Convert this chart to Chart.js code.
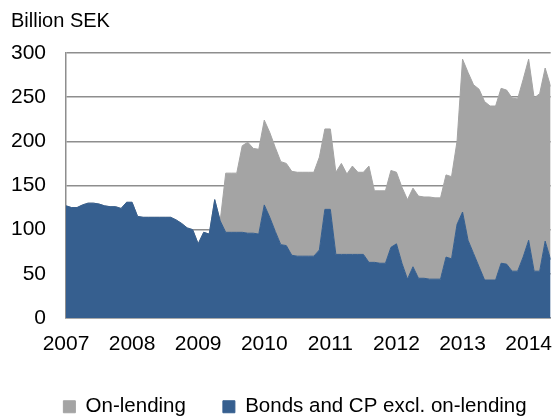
<!DOCTYPE html>
<html lang="en">
<head>
    <meta charset="UTF-8">
    <title>Bonds and CP, on-lending</title>
    <style>
        html, body { margin: 0; padding: 0; background: #fff; }
        #wrap { width: 555px; height: 416px; }
    </style>
    <script src="https://cdn.jsdelivr.net/npm/chart.js@4"></script>
</head>
<body>
    <div id="wrap"><canvas id="chart"></canvas></div>

    <script>
        // monthly data, Jan 2007 .. May 2014 (billion SEK)
        const startYear = 2007;
        const yearTicks = [2007, 2008, 2009, 2010, 2011, 2012, 2013, 2014];

        const bonds = [
            127, 125, 125, 128, 130, 130, 129, 127, 126, 126, 124, 131,   // 2007
            131, 115, 114, 114, 114, 114, 114, 114, 111, 107, 102, 100,   // 2008
            84, 97, 95, 134, 110, 97, 97, 97, 97, 96, 96, 95,             // 2009
            128, 114, 98, 83, 82, 71, 70, 70, 70, 70, 77, 123,            // 2010
            123, 72, 72, 72, 72, 72, 72, 63, 63, 62, 62, 80,              // 2011
            84, 62, 44, 58, 45, 45, 44, 44, 44, 69, 67, 106,              // 2012
            120, 88, 73, 58, 43, 43, 43, 62, 61, 53, 53, 69,              // 2013
            88, 53, 53, 87, 66                                            // 2014
        ];

        const onLending = [
            0, 0, 0, 0, 0, 0, 0, 0, 0, 0, 0, 0,
            0, 0, 0, 0, 0, 0, 0, 0, 0, 0, 0, 0,
            0, 0, 0, 0, 0, 67, 67, 67, 98, 103, 96, 96,
            96, 96, 95, 94, 93, 95, 95, 95, 95, 95, 105, 91,
            91, 93, 103, 91, 100, 93, 93, 109, 81, 82, 82, 87,
            81, 86, 90, 89, 93, 92, 93, 92, 92, 93, 93, 94,
            173, 190, 191, 201, 202, 197, 197, 198, 197, 196, 195, 201,
            205, 196, 201, 196, 196
        ];

        const blue = '#365f8f';
        const grey = '#a4a4a4';
        const gridColor = '#8e8e8e';

        const toPoints = arr => arr.map((v, i) => ({ x: startYear + i / 12, y: v }));

        // move the legend a little to the right, as in the original figure
        const legendNudge = {
            id: 'legendNudge',
            afterLayout(chart) {
                chart.legend.left += 12;
                chart.legend.right += 12;
            }
        };

        Chart.defaults.font.family = "'Liberation Sans', Arial, sans-serif";
        Chart.defaults.color = '#000';

        const ctx = document.getElementById('chart').getContext('2d');
        new Chart(ctx, {
            type: 'line',
            data: {
                datasets: [{
                    label: 'Bonds and CP excl. on-lending',
                    data: toPoints(bonds),
                    backgroundColor: blue,
                    borderColor: blue,
                    borderWidth: 1,
                    pointRadius: 0,
                    fill: 'origin'
                }, {
                    label: 'On-lending',
                    data: toPoints(onLending),
                    backgroundColor: grey,
                    borderColor: grey,
                    borderWidth: 1,
                    pointRadius: 0,
                    fill: '-1'
                }]
            },
            options: {
                responsive: true,
                maintainAspectRatio: false,
                animation: false,
                layout: { padding: { left: 11, right: 0, top: 0, bottom: -11 } },
                plugins: {
                    tooltip: { enabled: false },
                    title: {
                        display: true,
                        text: 'Billion SEK',
                        align: 'start',
                        font: { size: 20, weight: 'normal' },
                        padding: { top: 9, bottom: 20 }
                    },
                    legend: {
                        position: 'bottom',
                        reverse: true,
                        labels: {
                            boxWidth: 12,
                            boxHeight: 12,
                            padding: 37,
                            font: { size: 20.5 }
                        }
                    }
                },
                scales: {
                    x: {
                        type: 'linear',
                        min: startYear,
                        max: startYear + (bonds.length - 1) / 12,
                        afterBuildTicks: axis => { axis.ticks = yearTicks.map(v => ({ value: v })); },
                        afterFit: axis => { axis.height = 41.5; },
                        grid: { display: false, drawTicks: true, tickLength: 11 },
                        border: { display: true, color: gridColor, width: 1.5 },
                        ticks: {
                            padding: 3,
                            maxRotation: 0,
                            autoSkip: false,
                            font: { size: 21 },
                            callback: v => String(v)
                        }
                    },
                    y: {
                        stacked: true,
                        min: 0,
                        max: 300,
                        afterFit: axis => { axis.width = 55; },
                        grid: { color: gridColor, lineWidth: 1.5, drawTicks: false },
                        border: { display: true, color: gridColor, width: 1.5 },
                        ticks: { stepSize: 50, padding: 20, font: { size: 21 } }
                    }
                }
            },
            plugins: [legendNudge]
        });
    </script>
</body>
</html>
